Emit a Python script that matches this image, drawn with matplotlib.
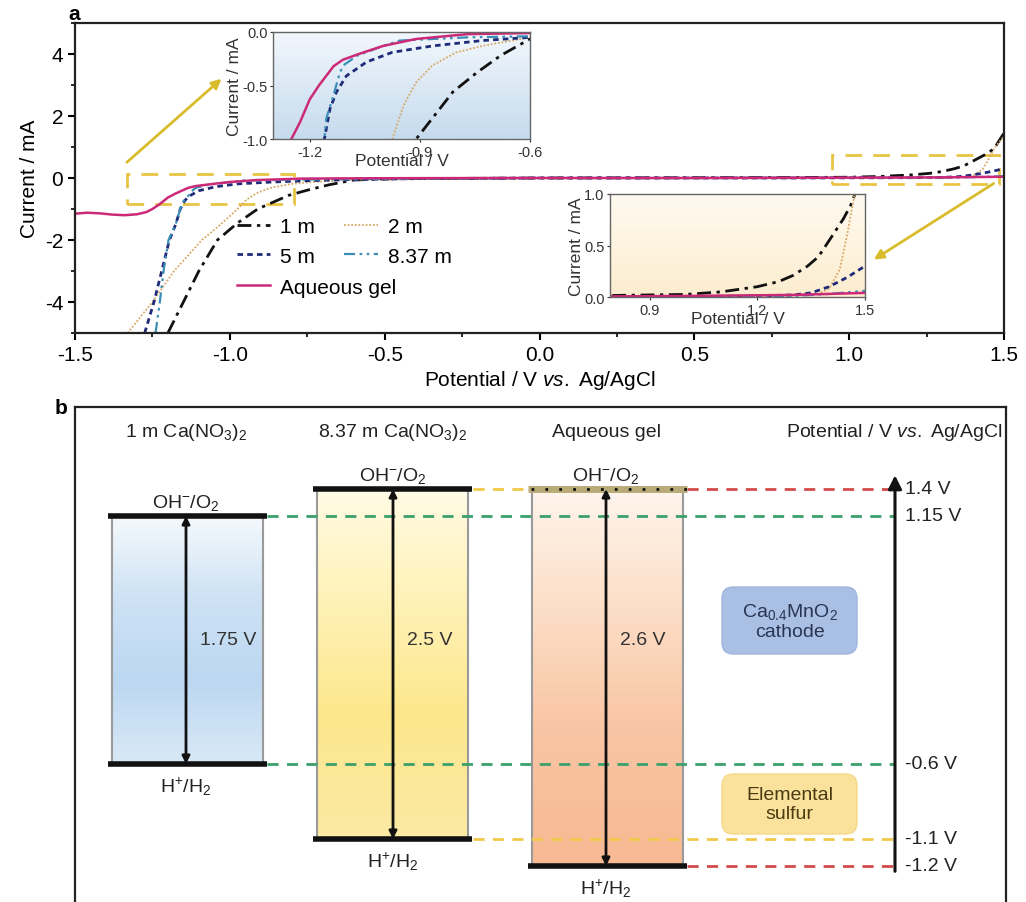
import numpy as np
import matplotlib
matplotlib.use("Agg")
import matplotlib.pyplot as plt
import matplotlib.transforms as mtransforms
from matplotlib.patches import FancyBboxPatch, Rectangle
from matplotlib.colors import LinearSegmentedColormap
from matplotlib.ticker import MultipleLocator, FormatStrFormatter

plt.rcParams['font.family'] = ['Liberation Sans', 'DejaVu Sans']
plt.rcParams['mathtext.fontset'] = 'custom'
plt.rcParams['mathtext.rm'] = 'Liberation Sans'
plt.rcParams['mathtext.it'] = 'Liberation Sans:italic'
plt.rcParams['mathtext.bf'] = 'Liberation Sans:bold'
plt.rcParams['axes.unicode_minus'] = False

# ---- panel a: LSV curves (potential V, current mA) ----
v_1m = [-1.20, -1.15, -1.10, -1.04, -0.975, -0.91, -0.86, -0.81, -0.745, -0.68, -0.60, -0.50, -0.40,
        -0.20, 0.0, 0.5, 0.8, 1.0, 1.1, 1.2, 1.26, 1.30, 1.34, 1.37, 1.41, 1.44, 1.46, 1.47, 1.50]
i_1m = [-5.0, -4.0, -3.0, -2.0, -1.45, -1.0, -0.78, -0.56, -0.38, -0.22, -0.065, -0.03, -0.02,
        -0.01, 0.0, 0.01, 0.015, 0.025, 0.05, 0.10, 0.15, 0.21, 0.30, 0.39, 0.60, 0.76, 0.89, 0.98, 1.45]

v_2m = [-1.33, -1.25, -1.18, -1.09, -1.03, -0.975, -0.945, -0.91, -0.865, -0.80, -0.73, -0.60, -0.40,
        0.0, 0.8, 1.2, 1.3, 1.37, 1.40, 1.43, 1.45, 1.47, 1.50]
i_2m = [-5.0, -4.0, -3.0, -2.0, -1.5, -1.0, -0.69, -0.47, -0.31, -0.19, -0.13, -0.05, -0.02,
        0.0, 0.0, 0.01, 0.02, 0.03, 0.08, 0.27, 0.60, 0.98, 1.35]

v_5m = [-1.275, -1.245, -1.22, -1.195, -1.175, -1.16, -1.145, -1.127, -1.10, -1.045, -0.975, -0.865,
        -0.73, -0.60, -0.40, 0.0, 0.8, 1.2, 1.3, 1.35, 1.40, 1.45, 1.50]
i_5m = [-5.0, -4.0, -3.0, -2.0, -1.5, -1.0, -0.72, -0.56, -0.41, -0.28, -0.19, -0.13,
        -0.08, -0.05, -0.02, 0.0, 0.0, 0.01, 0.02, 0.04, 0.10, 0.19, 0.30]

v_837m = [-1.24, -1.226, -1.214, -1.198, -1.175, -1.16, -1.155, -1.136, -1.118, -1.108, -1.07, -1.00,
          -0.955, -0.77, -0.60, -0.40, 0.0, 0.8, 1.3, 1.4, 1.5]
i_837m = [-5.0, -4.0, -3.0, -2.0, -1.5, -1.0, -0.81, -0.60, -0.38, -0.31, -0.22, -0.13,
          -0.08, -0.05, -0.04, -0.02, 0.0, 0.0, 0.01, 0.03, 0.06]

v_gel = [-1.50, -1.46, -1.42, -1.38, -1.34, -1.30, -1.27, -1.25, -1.226, -1.20, -1.175, -1.155, -1.135,
         -1.11, -1.07, -1.00, -0.91, -0.77, -0.60, -0.40, 0.0, 0.5, 1.0, 1.3, 1.4, 1.5]
i_gel = [-1.15, -1.12, -1.14, -1.18, -1.20, -1.17, -1.10, -1.00, -0.84, -0.63, -0.50, -0.41, -0.32,
         -0.26, -0.21, -0.13, -0.065, -0.02, -0.01, -0.005, 0.0, 0.0, 0.01, 0.02, 0.03, 0.04]

series = [
    ("1 m", v_1m, i_1m, dict(color="#111111", lw=2.0, dashes=(5, 2, 1.2, 2))),
    ("2 m", v_2m, i_2m, dict(color="#d8a865", lw=1.3, dashes=(1, 1))),
    ("5 m", v_5m, i_5m, dict(color="#1f2a7a", lw=2.0, dashes=(2, 1.5))),
    ("8.37 m", v_837m, i_837m, dict(color="#3b8fb5", lw=1.6, dashes=(5, 2, 1.2, 2, 1.2, 2))),
    ("Aqueous gel", v_gel, i_gel, dict(color="#cc2a78", lw=1.8)),
]

# ---- panel b: stability windows ----
b_columns = ["1 m Ca(NO$_3$)$_2$", "8.37 m Ca(NO$_3$)$_2$", "Aqueous gel"]
b_oer = [1.15, 1.4, 1.4]
b_her = [-0.6, -1.1, -1.2]
b_window = ["1.75 V", "2.5 V", "2.6 V"]
ref_levels = [1.4, 1.15, -0.6, -1.1, -1.2]
ref_labels = ["1.4 V", "1.15 V", "-0.6 V", "-1.1 V", "-1.2 V"]

# schematic (non-linear) potential axis used in panel b
knot_v = np.array([-1.6, -1.2, -1.1, -0.6, 1.15, 1.4, 2.4])
knot_h = np.array([-975, -867, -840, -765, -517, -490, -382], dtype=float)


def fwd(v):
    return np.interp(v, knot_v, knot_h)


def inv(h):
    return np.interp(h, knot_h, knot_v)


W, H = 1026, 903
fig = plt.figure(figsize=(W / 100, H / 100), dpi=100)


def px_axes(x0, x1, y0, y1):
    # pixel box -> figure fraction
    return fig.add_axes([x0 / W, 1 - y1 / H, (x1 - x0) / W, (y1 - y0) / H])


# ================= panel a =================
ax = px_axes(75, 1004, 24, 334)
lines = {}
for lab, v, i, st in series:
    lines[lab], = ax.plot(v, i, label=lab, **st)
ax.set_xlim(-1.5, 1.5)
ax.set_ylim(-5, 5)
ax.xaxis.set_major_locator(MultipleLocator(0.5))
ax.xaxis.set_minor_locator(MultipleLocator(0.25))
ax.yaxis.set_major_locator(MultipleLocator(2))
ax.yaxis.set_minor_locator(MultipleLocator(1))
ax.xaxis.set_major_formatter(FormatStrFormatter("%.1f"))
ax.tick_params(which="major", length=5, width=1.5, labelsize=15)
ax.tick_params(which="minor", length=3, width=1.2)
for s in ax.spines.values():
    s.set_linewidth(1.6)
    s.set_color("#222222")
ax.set_xlabel(r"Potential / V $\it{vs.}$ Ag/AgCl", fontsize=15, labelpad=3)
ax.set_ylabel("Current / mA", fontsize=15, labelpad=4)

leg_kw = dict(loc="upper left", frameon=False, fontsize=15, handlelength=1.6,
              handletextpad=0.5, columnspacing=1.4, labelspacing=0.5, borderaxespad=0)
leg1 = ax.legend([lines["1 m"], lines["5 m"], lines["2 m"], lines["8.37 m"]],
                 ["1 m", "5 m", "2 m", "8.37 m"], ncol=2, bbox_to_anchor=(0.165, 0.40), **leg_kw)
ax.add_artist(leg1)
ax.legend([lines["Aqueous gel"]], ["Aqueous gel"], bbox_to_anchor=(0.165, 0.205), **leg_kw)

# yellow zoom boxes and arrows
yel = "#e8c444"
ax.add_patch(Rectangle((-1.333, -0.84), 0.54, 0.97, fill=False, ec=yel, lw=2, ls=(0, (6, 4)), zorder=1))
ax.add_patch(Rectangle((0.943, -0.19), 0.54, 0.93, fill=False, ec=yel, lw=2, ls=(0, (6, 4)), zorder=1))
ax.annotate("", xy=(-1.02, 3.26), xytext=(-1.339, 0.45),
            arrowprops=dict(arrowstyle="-|>", color="#d9bc2c", lw=2, mutation_scale=14))
ax.annotate("", xy=(1.072, -2.68), xytext=(1.474, -0.13),
            arrowprops=dict(arrowstyle="-|>", color="#d9bc2c", lw=2, mutation_scale=14))


def gradient_bg(a, top, bottom):
    cm = LinearSegmentedColormap.from_list("g", [bottom, top])
    a.imshow(np.linspace(0, 1, 64).reshape(-1, 1), cmap=cm, origin="lower", aspect="auto",
             extent=[0, 1, 0, 1], transform=a.transAxes, zorder=0)


def style_inset(a):
    for s in a.spines.values():
        s.set_linewidth(1.0)
        s.set_color("#666666")
    a.tick_params(labelsize=10.5, length=2.5, width=0.8, colors="#333333", pad=1.5)
    a.set_xlabel("Potential / V", fontsize=12.5, color="#333333", labelpad=-4)
    a.set_ylabel("Current / mA", fontsize=12.5, color="#333333", labelpad=0)


# inset 1 (cathodic)
ins1 = px_axes(273, 530, 33, 140)
gradient_bg(ins1, "#f2f7fc", "#c6dbee")
for lab, v, i, st in series:
    ins1.plot(v, i, **st)
ins1.set_xlim(-1.30, -0.6)
ins1.set_ylim(-1.0, 0.0)
ins1.set_xticks([-1.2, -0.9, -0.6])
ins1.set_yticks([-1.0, -0.5, 0.0])
ins1.yaxis.set_major_formatter(FormatStrFormatter("%.1f"))
style_inset(ins1)

# inset 2 (anodic)
ins2 = px_axes(610, 865, 195, 298)
gradient_bg(ins2, "#fffaf0", "#fcedcf")
for lab, v, i, st in series:
    ins2.plot(v, i, **st)
ins2.set_xlim(0.79, 1.5)
ins2.set_ylim(0.0, 1.0)
ins2.set_xticks([0.9, 1.2, 1.5])
ins2.set_yticks([0.0, 0.5, 1.0])
ins2.yaxis.set_major_formatter(FormatStrFormatter("%.1f"))
style_inset(ins2)

fig.text(68 / W, 1 - 14 / H, "a", fontsize=15, fontweight="bold", ha="left", va="center")

# ================= panel b =================
bx = px_axes(75, 1006, 408, 903)
bx.set_yscale("function", functions=(fwd, inv))
bx.set_xlim(75, 1006)
bx.set_ylim(float(inv(-903)), float(inv(-408)))
bx.set_xticks([])
bx.set_yticks([])
bx.minorticks_off()
bx.spines["bottom"].set_visible(False)
for s in ["left", "top", "right"]:
    bx.spines[s].set_linewidth(1.6)
    bx.spines[s].set_color("#222222")
ytr = mtransforms.blended_transform_factory(bx.transData, bx.transAxes)

col_x0 = [108, 313, 528]
col_w = 159
arrow_x = [186, 393, 606]
label_x = [228, 430, 643]
grads = [["#d8e8f6", "#bcd7f1", "#cde2f4", "#f4f9fd"],
         ["#fbe9a4", "#fde78c", "#fff2b8", "#fffbe6"],
         ["#f7ba94", "#f9c6a5", "#fcdfc8", "#fff6ee"]]
bfs = 14

for k in range(3):
    x0 = col_x0[k]
    cm = LinearSegmentedColormap.from_list("c%d" % k, grads[k])
    bx.imshow(np.linspace(0, 1, 64).reshape(-1, 1), cmap=cm, origin="lower", aspect="auto",
              extent=[x0 + 4, x0 + col_w - 4, b_her[k], b_oer[k]], zorder=1)
    bx.vlines([x0 + 4, x0 + col_w - 4], b_her[k], b_oer[k], color="#9a9a9a", lw=1.5, zorder=2)
    bx.hlines([b_her[k]], x0, x0 + col_w, color="#111111", lw=4, zorder=4)
    if k == 2:
        bx.hlines([b_oer[k]], x0, x0 + col_w, color="#b9ab78", lw=5, zorder=4)
        bx.hlines([b_oer[k]], x0 + 3, x0 + col_w, color="#111111", lw=2, ls=(0, (1, 4)), zorder=5)
    else:
        bx.hlines([b_oer[k]], x0, x0 + col_w, color="#111111", lw=4, zorder=4)
    bx.annotate("", xy=(arrow_x[k], b_oer[k]), xytext=(arrow_x[k], b_her[k]),
                arrowprops=dict(arrowstyle="<|-|>", color="#111111", lw=2, mutation_scale=11,
                                shrinkA=0, shrinkB=0), zorder=6)
    bx.text(label_x[k], 0.531, b_window[k], transform=ytr, fontsize=bfs, color="#333333",
            ha="center", va="center", zorder=6)
    bx.text(arrow_x[k], 0.9515, b_columns[k], transform=ytr, fontsize=bfs, color="#222222",
            ha="center", va="center")
    bx.annotate("OH$^{-}$/O$_2$", xy=(arrow_x[k], b_oer[k]), xytext=(0, 3), textcoords="offset points",
                ha="center", va="bottom", fontsize=bfs, color="#222222")
    bx.annotate("H$^{+}$/H$_2$", xy=(arrow_x[k], b_her[k]), xytext=(0, -8), textcoords="offset points",
                ha="center", va="top", fontsize=bfs, color="#222222")

green, red, yellow = "#3ba06c", "#d44a4a", "#f0c94a"
axis_x = 895
dash = (0, (4, 3))
bx.hlines(1.4, 473, 528, color=yellow, lw=2, ls=dash, zorder=3)
bx.hlines(1.4, 687, axis_x, color=red, lw=2, ls=dash, zorder=3)
bx.hlines(1.15, 267, axis_x, color=green, lw=2, ls=dash, zorder=3)
bx.hlines(-0.6, 267, axis_x, color=green, lw=2, ls=dash, zorder=3)
bx.hlines(-1.1, 473, axis_x, color=yellow, lw=2, ls=dash, zorder=3)
bx.hlines(-1.2, 687, axis_x, color=red, lw=2, ls=dash, zorder=3)

bx.annotate("", xy=(axis_x, 0.862), xytext=(axis_x, 0.062), xycoords=ytr, textcoords=ytr,
            arrowprops=dict(arrowstyle="-|>", color="#111111", lw=2.2, mutation_scale=20,
                            shrinkA=0, shrinkB=0))
for lv, lt in zip(ref_levels, ref_labels):
    bx.text(axis_x + 10, lv, lt, fontsize=bfs, color="#222222", ha="left", va="center")
bx.text(1002, 0.9515, r"Potential / V $\it{vs.}$ Ag/AgCl", transform=ytr, fontsize=bfs,
        color="#222222", ha="right", va="center")

# electrode material tags
asp = (1006 - 75) / (903 - 408)
for (yt, yb, fc, ec, tc, txt) in [(588, 655, "#a9c0e4", "#9fb6dc", "#2a3552", "Ca$_{0.4}$MnO$_2$\ncathode"),
                                   (775, 835, "#fbe29c", "#f5d98a", "#4a3b12", "Elemental\nsulfur")]:
    x0f = (722 - 75) / (1006 - 75)
    wf = 135 / (1006 - 75)
    y0f = (903 - yb) / (903 - 408)
    hf = (yb - yt) / (903 - 408)
    bx.add_patch(FancyBboxPatch((x0f, y0f), wf, hf, boxstyle="round,pad=0,rounding_size=0.012",
                                mutation_aspect=asp, transform=bx.transAxes, fc=fc, ec=ec, lw=1, zorder=2))
    bx.text(x0f + wf / 2, y0f + hf / 2, txt, transform=bx.transAxes, ha="center", va="center",
            fontsize=bfs, color=tc, linespacing=1.2, zorder=3)

fig.text(55 / W, 1 - 409 / H, "b", fontsize=15, fontweight="bold", ha="left", va="center")

fig.savefig("out.png", dpi=100)
